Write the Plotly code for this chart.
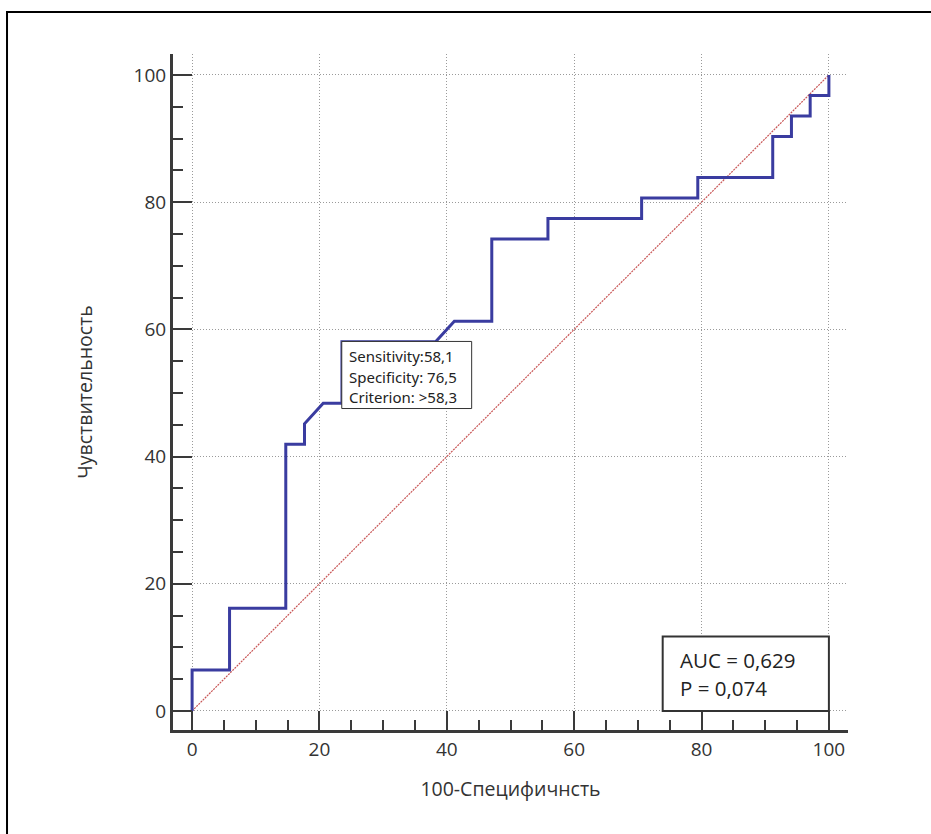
import plotly.graph_objects as go

# ROC curve: 100 - specificity (x) against sensitivity (y), in percent
fpr = [0, 0, 5.88, 5.88, 14.71, 14.71, 17.65, 17.65, 20.59, 23.53, 23.53,
       38.24, 41.18, 47.06, 47.06, 55.88, 55.88, 70.59, 70.59, 79.41, 79.41,
       91.18, 91.18, 94.12, 94.12, 97.06, 97.06, 100, 100]
tpr = [0, 6.45, 6.45, 16.13, 16.13, 41.94, 41.94, 45.16, 48.39, 48.39, 58.06,
       58.06, 61.29, 61.29, 74.19, 74.19, 77.42, 77.42, 80.65, 80.65, 83.87,
       83.87, 90.32, 90.32, 93.55, 93.55, 96.77, 96.77, 100]

# reference (chance) line
diag_x = [0, 100]
diag_y = [0, 100]

# optimal criterion
crit_sens = 58.1
crit_spec = 76.5
crit_value = "58,3"
crit_lines = ["Sensitivity:58,1", "Specificity: 76,5", "Criterion: >" + crit_value]

# summary statistics
stat_lines = ["AUC = 0,629", "P = 0,074"]

tick_vals = [0, 20, 40, 60, 80, 100]
tick_text = ["0", "20", "40", "60", "80", "100"]

FONT = "Open Sans"
AXIS_COL = "#3a3a3a"
TEXT_COL = "#333333"

fig = go.Figure()
fig.add_trace(go.Scatter(x=diag_x, y=diag_y, mode="lines",
                         line=dict(color="#c85555", width=1.2, dash="2px,1px"),
                         hoverinfo="skip", showlegend=False))
fig.add_trace(go.Scatter(x=fpr, y=tpr, mode="lines",
                         line=dict(color="#3a3ca0", width=3),
                         showlegend=False))

axis_common = dict(
    tickvals=tick_vals, ticktext=tick_text,
    showline=True, linewidth=3, linecolor=AXIS_COL, mirror=False,
    ticks="inside", ticklen=19, tickwidth=1.5, tickcolor=AXIS_COL,
    minor=dict(dtick=5, tick0=0, ticks="inside", ticklen=10, tickwidth=1.5,
               tickcolor=AXIS_COL, showgrid=False),
    showgrid=True, gridcolor="#9a9a9a", gridwidth=1, griddash="1px,2px",
    zeroline=False, automargin=False,
    tickfont=dict(family=FONT, size=19, color=TEXT_COL),
)

fig.update_xaxes(range=[-3, 103], title=dict(text="100-Специфичнсть", standoff=22,
                 font=dict(family=FONT, size=19.5, color=TEXT_COL)), **axis_common)
fig.update_yaxes(range=[-3, 103.3], title=dict(text="Чувствительность", standoff=36,
                 font=dict(family=FONT, size=19.5, color=TEXT_COL)), **axis_common)

# criterion box: top-left corner sits on the criterion point
cx = 100 - crit_spec
cy = crit_sens
box_w = 20.4   # data units
box_h = 10.55
fig.add_shape(type="rect", x0=cx, x1=cx + box_w, y0=cy - box_h, y1=cy,
              xref="x", yref="y", line=dict(color="#333333", width=1),
              fillcolor="white", layer="above")
for i, t in enumerate(crit_lines):
    fig.add_annotation(x=cx, y=cy, xref="x", yref="y", text=t, showarrow=False,
                       xanchor="left", yanchor="middle", xshift=5,
                       yshift=-14.5 - i * 20.7,
                       font=dict(family="Noto Sans", size=15, color="#222222"))

# statistics box in the lower-right corner
sx0, sx1, sy0, sy1 = 73.9, 100, 0, 11.7
fig.add_shape(type="rect", x0=sx0, x1=sx1, y0=sy0, y1=sy1, xref="x", yref="y",
              line=dict(color="#333333", width=2), fillcolor="white", layer="above")
for i, t in enumerate(stat_lines):
    fig.add_annotation(x=sx0, y=sy1, xref="x", yref="y", text=t, showarrow=False,
                       xanchor="left", yanchor="middle", xshift=15,
                       yshift=-23 - i * 28,
                       font=dict(family=FONT, size=20.5, color="#222222"))

# outer frame
fig.add_shape(type="rect", xref="paper", yref="paper", x0=-0.2459, x1=2,
              y0=-1, y1=1.0621, line=dict(color="black", width=2),
              fillcolor="rgba(0,0,0,0)", layer="below")

fig.update_layout(width=931, height=834,
                  margin=dict(l=173, r=83, t=54, b=104),
                  paper_bgcolor="white", plot_bgcolor="white",
                  showlegend=False)

fig.write_html("out.html")
